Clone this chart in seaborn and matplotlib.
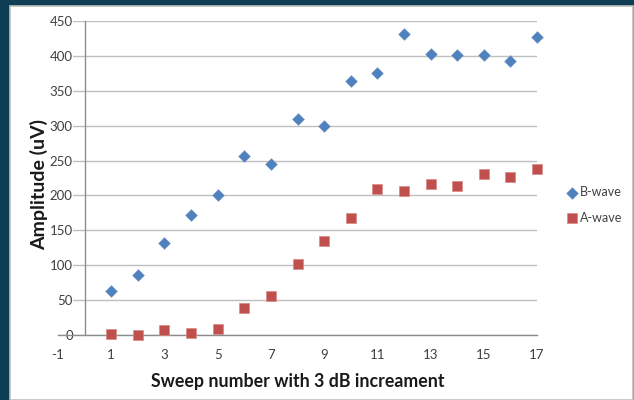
import matplotlib
matplotlib.use("Agg")
import matplotlib.pyplot as plt
from matplotlib.patches import Rectangle
import seaborn as sns
import pandas as pd

sweep = list(range(1, 18))
b_wave = [63, 86, 132, 172, 201, 257, 245, 310, 300, 364, 375, 431, 402, 401, 401, 393, 427]
a_wave = [1.5, 0.5, 7, 3.5, 9, 39, 56, 102, 134, 167, 209, 207, 216, 214, 231, 226, 238]
x_ticks = [-1, 1, 3, 5, 7, 9, 11, 13, 15, 17]
y_ticks = [0, 50, 100, 150, 200, 250, 300, 350, 400, 450]

df = pd.concat([
    pd.DataFrame({"sweep": sweep, "amp": b_wave, "series": "B-wave"}),
    pd.DataFrame({"sweep": sweep, "amp": a_wave, "series": "A-wave"}),
], ignore_index=True)

sns.set_theme(style="white")
plt.rcParams['font.family'] = ['Lato', 'DejaVu Sans']

W, H = 634, 400
fig = plt.figure(figsize=(W / 100, H / 100), dpi=100)
fig.patch.set_facecolor("#0D3E53")
fig.patches.append(Rectangle((10 / W, 0), 623 / W, 1 - 6 / H, transform=fig.transFigure,
                             facecolor="white", edgecolor="#BFBFBF", linewidth=1.2, zorder=-10))

ax = fig.add_axes([58 / W, 1 - 335 / H, (537 - 58) / W, (335 - 21) / H])
ax.set_facecolor("white")
ax.patch.set_alpha(0)

palette = {"B-wave": "#4F81BD", "A-wave": "#C0504D"}
sns.scatterplot(data=df[df.series == "B-wave"], x="sweep", y="amp", color=palette["B-wave"],
                marker="D", s=36, edgecolor="#6F98CC", linewidth=0.4, ax=ax, label="B-wave",
                zorder=3, clip_on=False)
sns.scatterplot(data=df[df.series == "A-wave"], x="sweep", y="amp", color=palette["A-wave"],
                marker="s", s=54, edgecolor="#D98A88", linewidth=0.5, ax=ax, label="A-wave",
                zorder=3, clip_on=False)

ax.set_xlim(-1, 17)
ax.set_ylim(0, 450)
ax.set_xticks(x_ticks)
ax.set_yticks(y_ticks)
ax.set_xticklabels([str(v) for v in x_ticks])
ax.set_yticklabels([str(v) for v in y_ticks])

ax.yaxis.grid(True, color="#BFBFBF", linewidth=1.0, zorder=0)
ax.xaxis.grid(False)
ax.set_axisbelow(True)

for side in ["top", "right"]:
    ax.spines[side].set_visible(False)
ax.spines["left"].set_position(("data", 0))
ax.spines["left"].set_color("#8C8C8C")
ax.spines["bottom"].set_color("#8C8C8C")
ax.spines["left"].set_linewidth(1.0)
ax.spines["bottom"].set_linewidth(1.0)

ax.tick_params(axis="x", length=0, pad=10, labelsize=9.5, labelcolor="#404040")
ax.tick_params(axis="y", length=0, pad=8.5, labelsize=9.5, labelcolor="#404040")
for lbl in ax.get_yticklabels():
    lbl.set_bbox(dict(facecolor="white", edgecolor="none", pad=0.5))

ax.set_xlabel("Sweep number with 3 dB increament", fontsize=12.8, fontweight="bold",
              color="#1A1A1A", labelpad=9)
ax.set_ylabel("")
fig.text(39 / W, 1 - 184 / H, "Amplitude (uV)", rotation=90, ha="center", va="center",
         fontsize=14, fontweight="bold", color="#1A1A1A")

leg = ax.legend(loc="center left", bbox_to_anchor=(561 / W, 1 - 205 / H),
                bbox_transform=fig.transFigure, frameon=False, fontsize=9,
                handletextpad=0.1, labelspacing=1.05, borderaxespad=0, handlelength=1.0)
for t in leg.get_texts():
    t.set_color("#404040")

fig.savefig("out.png", dpi=100, facecolor=fig.get_facecolor())
